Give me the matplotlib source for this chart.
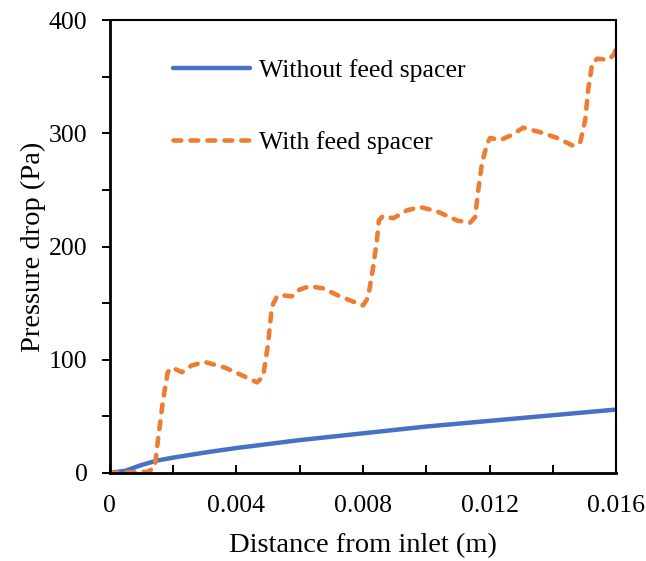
import numpy as np
import matplotlib.pyplot as plt
from matplotlib.ticker import MultipleLocator, FixedLocator

# distance from inlet (m) and pressure drop (Pa)
x_plain = [0, 0.0005, 0.001, 0.0015, 0.002, 0.003, 0.004, 0.005, 0.006,
           0.008, 0.010, 0.012, 0.014, 0.016]
dp_plain = [0, 2, 7, 11, 13.5, 18, 22, 25.5, 29, 35, 41, 46, 51, 56]

x_spacer = [0, 0.0006, 0.0012, 0.00142, 0.00152, 0.00168, 0.00183, 0.00196,
            0.00228, 0.00259, 0.0030, 0.00364, 0.00427, 0.00465, 0.00484,
            0.0050, 0.00512, 0.00528, 0.00544, 0.00575, 0.0060, 0.00632,
            0.00674, 0.00727, 0.00781, 0.0080, 0.00816, 0.00832, 0.00844,
            0.0085, 0.00863, 0.00895, 0.00939, 0.0098, 0.01034, 0.01075,
            0.01097, 0.01138, 0.01154, 0.01164, 0.01176, 0.01192, 0.01202,
            0.01233, 0.01265, 0.01306, 0.0136, 0.01413, 0.01464, 0.01486,
            0.01502, 0.01511, 0.01524, 0.0154, 0.01572, 0.01591, 0.016]
dp_spacer = [0, 0.5, 1, 5, 29, 64, 89, 93,
             89, 95, 98, 93, 85, 80, 85,
             114, 147, 156, 157, 156, 162, 165,
             163, 156, 150, 148, 155, 182, 206,
             223, 227, 225, 232, 235, 231, 226,
             223, 221, 226, 250, 274, 291, 296,
             294, 298, 305, 301, 296, 289, 292,
             312, 338, 362, 366, 365, 369, 375]

plt.rcParams['font.family'] = ['Liberation Serif', 'DejaVu Serif']

fig = plt.figure(figsize=(6.46, 5.61), dpi=100)
ax = fig.add_axes([0.170, 0.157, 0.784, 0.807])

ax.plot(x_plain, dp_plain, color='#4472C4', lw=3.2, label='Without feed spacer',
        solid_capstyle='round')
ax.plot(x_spacer, dp_spacer, color='#ED7D31', lw=3.3, label='With feed spacer',
        dashes=(1.7, 2.0), dash_capstyle='round')

ax.set_xlim(0, 0.016)
ax.set_ylim(0, 400)
ax.xaxis.set_major_locator(FixedLocator([0, 0.004, 0.008, 0.012, 0.016]))
ax.xaxis.set_minor_locator(MultipleLocator(0.002))
ax.yaxis.set_major_locator(MultipleLocator(100))
ax.yaxis.set_minor_locator(MultipleLocator(50))
ax.set_xticklabels(['0', '0.004', '0.008', '0.012', '0.016'])

ax.tick_params(axis='x', which='both', direction='in', length=6, width=1.4,
               labelsize=18.5, pad=16)
ax.tick_params(axis='y', which='both', direction='out', length=6, width=1.4,
               labelsize=18.5, pad=10)
for s in ax.spines.values():
    s.set_linewidth(1.5)
ax.spines['left'].set_linewidth(2)
ax.spines['bottom'].set_linewidth(2)

ax.set_xlabel('Distance from inlet (m)', fontsize=20.5, labelpad=11.5)
ax.set_ylabel('Pressure drop (Pa)', fontsize=20.5, labelpad=2)

ax.legend(loc='upper left', bbox_to_anchor=(0.1255, 0.914), frameon=False,
          fontsize=18.5, handlelength=3.0, handletextpad=0.35, labelspacing=1.9,
          borderpad=0, borderaxespad=0)

fig.savefig('out.png', dpi=100)
